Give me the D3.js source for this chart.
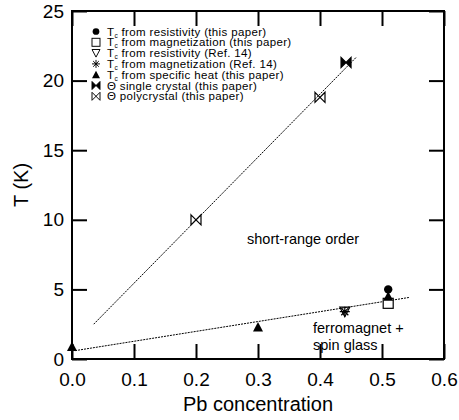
<!DOCTYPE html>
<html><head><meta charset="utf-8">
<script src="https://cdn.jsdelivr.net/npm/d3@7"></script>
<style>
body{margin:0;background:#fff;}
text{font-family:"Liberation Sans",Arial,Helvetica,sans-serif;fill:#000;}
</style></head>
<body><svg id="c" width="459" height="420"></svg>
<script>
// Transition temperatures vs Pb concentration
const tcResistivity = [{x:0.51, y:5.0}];
const tcMagnetization = [{x:0.51, y:4.0}];
const tcResistivityRef = [{x:0.44, y:3.4}];
const tcMagnetizationRef = [{x:0.44, y:3.4}];
const tcSpecificHeat = [{x:0.0, y:0.9}, {x:0.3, y:2.3}, {x:0.51, y:4.5}];
const thetaSingle = [{x:0.442, y:21.3}];
const thetaPoly = [{x:0.2, y:10.0}, {x:0.4, y:18.8}];
// guide lines
const upperLine = [{x:0.035, y:2.5}, {x:0.459, y:21.7}];
const lowerLine = [{x:0.005, y:0.6}, {x:0.545, y:4.43}];

const xTicks = [0, 0.1, 0.2, 0.3, 0.4, 0.5, 0.6];
const yTicks = [0, 5, 10, 15, 20, 25];

const legendItems = [
  {sym:"circle", sub:true, label:" from resistivity (this paper)"},
  {sym:"square", sub:true, label:" from magnetization (this paper)"},
  {sym:"tridown", sub:true, label:" from resistivity (Ref. 14)"},
  {sym:"aster", sub:true, label:" from magnetization (Ref. 14)"},
  {sym:"triup", sub:true, label:" from specific heat (this paper)"},
  {sym:"bowfill", sub:false, label:"\u0398  single crystal (this paper)"},
  {sym:"bowopen", sub:false, label:"\u0398 polycrystal (this paper)"}
];

const svg = d3.select("#c");
const L = 72, R = 444, T = 11, B = 359;
const x = d3.scaleLinear().domain([0, 0.6]).range([L, R]);
const y = d3.scaleLinear().domain([0, 25]).range([B, T]);

// marker drawing
function marker(g, sym) {
  const s = 5;
  if (sym === "circle") g.append("circle").attr("r", 4.2).attr("fill", "#000");
  else if (sym === "square") g.append("rect").attr("x", -5).attr("y", -5).attr("width", 10).attr("height", 10)
      .attr("fill", "#fff").attr("stroke", "#000").attr("stroke-width", 1.2);
  else if (sym === "tridown") g.append("path").attr("d", `M${-s},${-s+0.5}L${s},${-s+0.5}L0,${s}Z`)
      .attr("fill", "none").attr("stroke", "#000").attr("stroke-width", 1.2);
  else if (sym === "triup") g.append("path").attr("d", `M0,${-s}L${s},${s-0.5}L${-s},${s-0.5}Z`).attr("fill", "#000");
  else if (sym === "aster") {
    const p = d3.path();
    for (let i = 0; i < 4; i++) {
      const a = i * Math.PI / 4, dx = Math.sin(a) * 5, dy = Math.cos(a) * 5;
      p.moveTo(-dx, -dy); p.lineTo(dx, dy);
    }
    g.append("path").attr("d", p.toString()).attr("stroke", "#000").attr("stroke-width", 1.2);
  }
  else if (sym === "bowfill") g.append("path").attr("d", `M${-s},${-s}L${s},${s}L${s},${-s}L${-s},${s}Z`)
      .attr("fill", "#000").attr("stroke", "#000").attr("stroke-width", 1.2).attr("stroke-linejoin", "miter");
  else if (sym === "bowopen") g.append("path").attr("d", `M${-s},${-s}L${s},${s}L${s},${-s}L${-s},${s}Z`)
      .attr("fill", "none").attr("stroke", "#000").attr("stroke-width", 1.2);
}

// guide lines
const line = d3.line().x(d => x(d.x)).y(d => y(d.y));
[upperLine, lowerLine].forEach(l => {
  svg.append("path").attr("d", line(l)).attr("fill", "none").attr("stroke", "#000")
    .attr("stroke-width", 1).attr("stroke-dasharray", "2,1");
});

// axes (inward ticks on all four sides)
const tickLen = 15;
svg.append("g").attr("transform", `translate(0,${B})`)
  .call(d3.axisBottom(x).tickValues(xTicks).tickSize(-tickLen).tickPadding(14).tickFormat(d3.format(".1f")))
  .call(g => g.selectAll("text").attr("font-size", 19))
  .call(g => g.select(".domain").remove());
svg.append("g").attr("transform", `translate(${L},0)`)
  .call(d3.axisLeft(y).tickValues(yTicks).tickSize(-tickLen).tickPadding(8).tickFormat(d3.format("d")))
  .call(g => g.selectAll("text").attr("font-size", 19))
  .call(g => g.select(".domain").remove());
svg.append("g").attr("transform", `translate(0,${T})`)
  .call(d3.axisTop(x).tickValues(xTicks).tickSize(-tickLen).tickFormat(""))
  .call(g => g.select(".domain").remove());
svg.append("g").attr("transform", `translate(${R},0)`)
  .call(d3.axisRight(y).tickValues(yTicks).tickSize(-tickLen).tickFormat(""))
  .call(g => g.select(".domain").remove());
svg.selectAll(".tick line").attr("stroke", "#000").attr("stroke-width", 2);
svg.append("rect").attr("x", L).attr("y", T).attr("width", R - L).attr("height", B - T)
  .attr("fill", "none").attr("stroke", "#000").attr("stroke-width", 2);

// axis titles
svg.append("text").attr("x", (L + R) / 2).attr("y", 411).attr("text-anchor", "middle")
  .attr("font-size", 20).text("Pb concentration");
svg.append("text").attr("transform", `translate(28,${(T + B) / 2}) rotate(-90)`)
  .attr("text-anchor", "middle").attr("font-size", 20).text("T (K)");

// data markers
const series = [
  [tcMagnetization, "square"], [tcSpecificHeat, "triup"], [tcResistivity, "circle"],
  [tcResistivityRef, "tridown"], [tcMagnetizationRef, "aster"],
  [thetaPoly, "bowopen"], [thetaSingle, "bowfill"]
];
series.forEach(([data, sym]) => {
  data.forEach(d => {
    const g = svg.append("g").attr("transform", `translate(${x(d.x)},${y(d.y)})`);
    marker(g, sym);
  });
});

// region labels
svg.append("text").attr("x", 247).attr("y", 244).attr("font-size", 14.5).text("short-range order");
svg.append("text").attr("x", 313).attr("y", 333).attr("font-size", 14.5).text("ferromagnet +");
svg.append("text").attr("x", 313).attr("y", 350).attr("font-size", 14.5).text("spin glass");

// legend
const lg = svg.append("g");
legendItems.forEach((d, i) => {
  const cy = 31.5 + i * 10.8;
  const m = lg.append("g").attr("transform", `translate(96,${cy}) scale(0.8)`);
  marker(m, d.sym);
  const t = lg.append("text").attr("x", 107).attr("y", cy + 4)
    .attr("font-size", 11.5).attr("letter-spacing", 0.35);
  if (d.sub) {
    t.append("tspan").text("T");
    t.append("tspan").attr("font-size", 6.5).attr("dy", 2).text("c");
    t.append("tspan").attr("dy", -2).text(d.label);
  } else {
    t.text(d.label);
  }
});
</script></body></html>
